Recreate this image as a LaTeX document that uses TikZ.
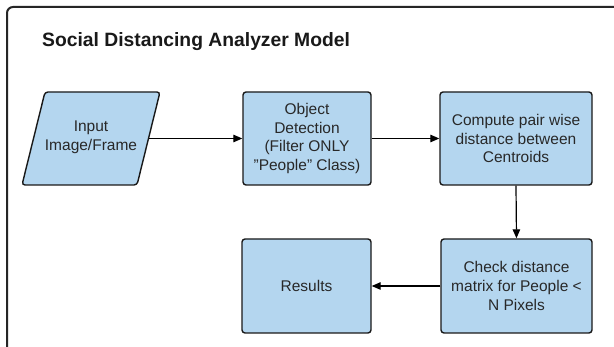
\documentclass[tikz,border=0pt]{standalone}
\usepackage{fontspec}
\setmainfont{Liberation Sans}
\usetikzlibrary{arrows.meta}
\definecolor{boxblue}{RGB}{180,214,239}
\definecolor{txt}{RGB}{40,40,40}
\tikzset{
  flowbox/.style={draw=black!90, fill=boxblue, line width=1.4pt, rounded corners=3pt,
    inner sep=2pt, align=center, text=txt,
    font=\fontsize{15.5pt}{18.7pt}\selectfont},
  flowtext/.style={inner sep=0pt, align=center, text=txt,
    font=\fontsize{15.5pt}{18.7pt}\selectfont},
  shapeline/.style={draw=black!90, fill=boxblue, line width=1.4pt, rounded corners=3pt},
  conn/.style={draw=black, line width=1.2pt, -{Triangle[length=9pt,width=7.5pt]}},
}
\begin{document}
\begin{tikzpicture}[x=1pt,y=-1pt]
\useasboundingbox (0,0) rectangle (614,347);
\fill[white] (0,0) rectangle (614,347);
% outer frame (clipped by page)
\draw[line width=2pt, black!85, rounded corners=6pt] (7,360) -- (7,7) -- (630,7);
% title
\node[anchor=base west, inner sep=0pt, font=\fontsize{19.3pt}{23pt}\selectfont\bfseries, text=black!90]
  (title) at (42,47) {Social Distancing Analyzer Model};
% input parallelogram
\draw[shapeline] (22,185) -- (45,92) -- (160,92) -- (137,185) -- cycle;
\node[flowtext] (inp) at (91,137) {Input\\Image/Frame};
\coordinate (inpE) at (149,138.5);
% boxes
\node[flowbox, minimum width=128pt, minimum height=93pt] (od) at (307,138.5)
  {Object\\Detection\\(Filter ONLY\\"People" Class)};
\node[flowbox, minimum width=152pt, minimum height=93pt] (cp) at (516,138.5)
  {Compute pair wise\\distance between\\Centroids};
\node[flowbox, minimum width=151pt, minimum height=94pt] (ck) at (516.5,286)
  {Check distance\\matrix for People <\\N Pixels};
\node[flowbox, minimum width=129pt, minimum height=94pt] (rs) at (306.5,286) {Results};
% connectors
\draw[conn] (inpE) -- (od.west);
\draw[conn] (od.east) -- (cp.west);
\draw[conn] (cp.south) -- (ck.north);
\draw[conn] (ck.west) -- (rs.east);
\end{tikzpicture}
\end{document}
